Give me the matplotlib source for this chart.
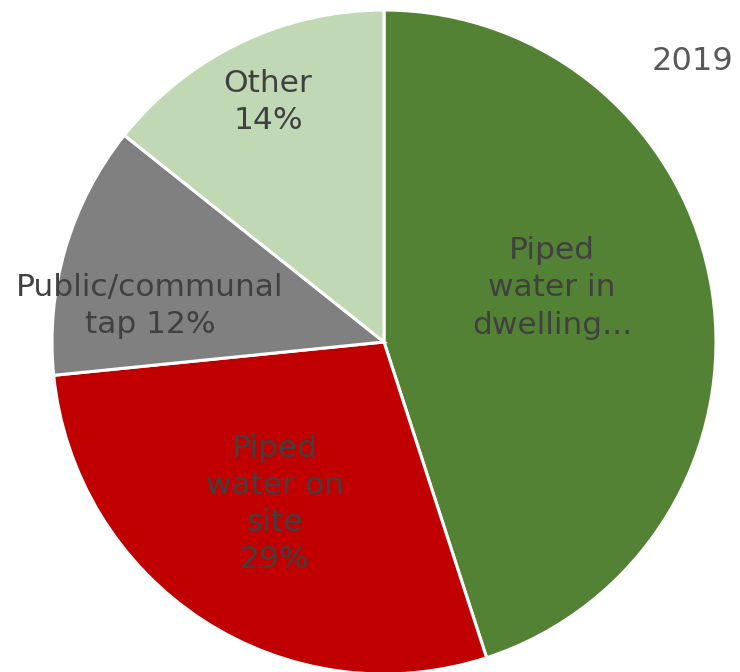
import matplotlib
matplotlib.use("Agg")
import matplotlib.pyplot as plt

# slice values (clockwise from 12 o'clock)
categories = ["Piped water in dwelling", "Piped water on site",
              "Public/communal tap", "Other"]
shares = [45.0, 28.4, 12.3, 14.3]
labels = ["Piped\nwater in\ndwelling...", "Piped\nwater on\nsite\n29%",
          "Public/communal\ntap 12%", "Other\n14%"]
colors = ["#548235", "#C00000", "#808080", "#C0D8B4"]
label_pos = [(552, 384), (275, 168), (150, 366), (268, 570)]
year = "2019"

plt.rcParams['font.family'] = ['DejaVu Sans']

fig = plt.figure(figsize=(7.4, 6.72), dpi=100)
ax = fig.add_axes([0, 0, 1, 1])
ax.pie(shares, colors=colors, startangle=90, counterclock=False,
       center=(384, 330), radius=332,
       wedgeprops=dict(edgecolor="white", linewidth=2.2))
ax.set_xlim(0, 740)
ax.set_ylim(0, 672)
ax.set_aspect("equal")
ax.axis("off")

for txt, (x, y) in zip(labels, label_pos):
    ax.text(x, y, txt, ha="center", va="center", fontsize=22.5,
            color="#404040", linespacing=1.35)

ax.text(693, 610, year, ha="center", va="center", fontsize=23, color="#595959")

fig.savefig("out.png", dpi=100)
